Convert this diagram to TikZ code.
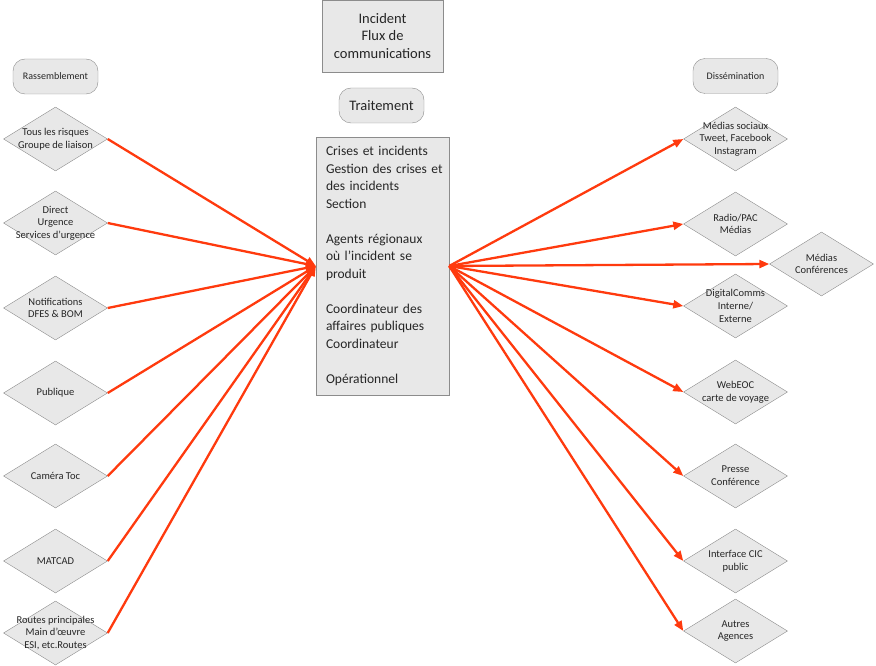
\documentclass[tikz,border=0pt]{standalone}
\usepackage{fontspec}
\setmainfont{Carlito}
\definecolor{arrowred}{RGB}{255,58,14}
\definecolor{boxfill}{RGB}{232,232,232}
\definecolor{boxline}{RGB}{140,140,140}
\definecolor{ink}{RGB}{38,38,38}
\usetikzlibrary{arrows.meta,shapes.geometric}

\begin{document}
\begin{tikzpicture}[x=1pt, y=-1pt, font=\fontsize{10.5}{12.7}\selectfont, text=ink,
    dia/.style={diamond, draw=boxline, fill=boxfill, minimum width=104pt, minimum height=64pt, inner sep=0pt},
    dlabel/.style={align=center, text=ink, inner sep=0pt},
    pill/.style={draw=boxline, fill=boxfill, rounded corners=12pt, minimum width=85pt, minimum height=35pt, inner sep=0pt},
    bigbox/.style={draw=boxline, fill=boxfill, font=\fontsize{14.5}{17.7}\selectfont},
    arr/.style={arrowred, line width=2.3pt, -{Triangle[length=10pt,width=8pt]}}]
        \useasboundingbox (0,0) rectangle (876,666);
        % top of the flow
        \node[bigbox, minimum width=121pt, minimum height=72pt, align=center] (title) at (382.5,36)
            {Incident\\Flux de\\communications};
        \node[pill, font=\fontsize{14.5}{16}\selectfont] (trait) at (381.5,105.5) {Traitement};
        \node[bigbox, font=\fontsize{13.5}{17.5}\selectfont, minimum height=258pt, text width=127pt, inner xsep=3pt,
              align=left, execute at begin node={\leftskip=7pt}] (proc) at (382.5,266)
            {Crises et incidents\\Gestion des crises et\\des incidents\\Section\\[17.5pt]%
             Agents régionaux\\où l'incident se\\produit\\[17.5pt]%
             Coordinateur des\\affaires publiques\\Coordinateur\\[17.5pt]%
             Opérationnel};
        % gathering side
        \node[pill, font=\fontsize{10}{12}\selectfont] (gather) at (55.5,76.5) {Rassemblement};
        \node[dia, label={[dlabel]center:{Tous les risques\\Groupe de liaison}}] (g1) at (55.5,139) {};
        \node[dia, label={[dlabel]center:{Direct\\Urgence\\Services d'urgence}}] (g2) at (55.5,223) {};
        \node[dia, label={[dlabel]center:{Notifications\\DFES \& BOM}}] (g3) at (55.5,308) {};
        \node[dia, label={[dlabel]center:{Publique}}] (g4) at (55.5,393) {};
        \node[dia, label={[dlabel]center:{Caméra Toc}}] (g5) at (55.5,476) {};
        \node[dia, label={[dlabel]center:{MATCAD}}] (g6) at (55.5,561) {};
        \node[dia, label={[dlabel]center:{Routes principales\\Main d'œuvre\\ESI, etc.Routes}}] (g7) at (55.5,633) {};
        % dissemination side
        \node[pill, font=\fontsize{10}{12}\selectfont] (spread) at (735.5,76) {Dissémination};
        \node[dia, label={[dlabel]center:{Médias sociaux\\Tweet, Facebook\\Instagram}}] (d1) at (735.5,139) {};
        \node[dia, label={[dlabel]center:{Radio/PAC\\Médias}}] (d2) at (735.5,224) {};
        \node[dia, label={[dlabel]center:{Médias\\Conférences}}] (d3) at (821.5,264) {};
        \node[dia, label={[dlabel]center:{DigitalComms\\Interne/\\Externe}}] (d4) at (735.5,306) {};
        \node[dia, label={[dlabel]center:{WebEOC\\carte de voyage}}] (d5) at (735.5,392) {};
        \node[dia, label={[dlabel]center:{Presse\\Conférence}}] (d6) at (735.5,476) {};
        \node[dia, label={[dlabel]center:{Interface CIC\\public}}] (d7) at (735.5,561) {};
        \node[dia, label={[dlabel]center:{Autres\\Agences}}] (d8) at (735.5,631) {};
        % arrows in
        \draw[arr] (g1.east) -- (proc.west);
        \draw[arr] (g2.east) -- (proc.west);
        \draw[arr] (g3.east) -- (proc.west);
        \draw[arr] (g4.east) -- (proc.west);
        \draw[arr] (g5.east) -- (proc.west);
        \draw[arr] (g6.east) -- (proc.west);
        \draw[arr] (g7.east) -- (proc.west);
        % arrows out
        \draw[arr] (proc.east) -- (d1.west);
        \draw[arr] (proc.east) -- (d2.west);
        \draw[arr] (proc.east) -- (d3.west);
        \draw[arr] (proc.east) -- (d4.west);
        \draw[arr] (proc.east) -- (d5.west);
        \draw[arr] (proc.east) -- (d6.west);
        \draw[arr] (proc.east) -- (d7.west);
        \draw[arr] (proc.east) -- (d8.west);
\end{tikzpicture}
\end{document}
